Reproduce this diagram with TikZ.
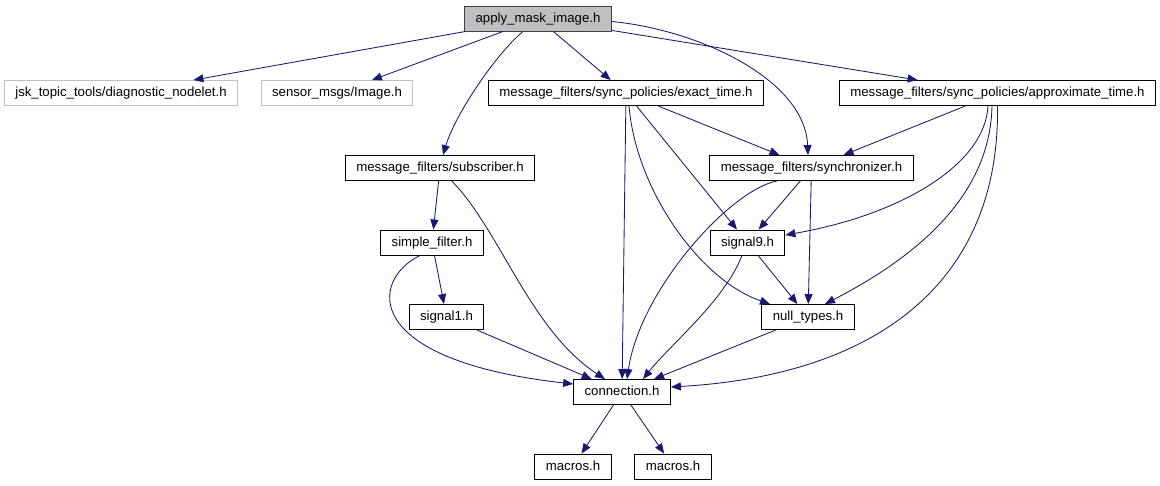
\documentclass[tikz,border=0pt]{standalone}
\usepackage{fontspec}
\setmainfont{Liberation Sans}
\usepackage{tikz}
\usetikzlibrary{arrows.meta}
\definecolor{edgeblue}{RGB}{25,25,112}
\definecolor{boxgray}{RGB}{191,191,191}

\begin{document}
\begin{tikzpicture}[x=1pt, y=-1pt,
			every node/.style = {shape=rectangle, draw, inner xsep=11pt, inner ysep=0pt,
				minimum height=25pt, text height=9.5pt, text depth=2.5pt, line width=0.9pt,
				font=\fontsize{13.2}{15}\selectfont},
			main/.style = {fill=boxgray, draw=black!75},
			ext/.style = {draw=boxgray},
			dep/.style = {draw=edgeblue, line width=0.85pt, -{Triangle[length=10pt,width=8pt]}}]
			\path[use as bounding box, fill=white] (0,0) rectangle (1160,485);
			\node[main] (apply) at (538,18.5) {apply\_mask\_image.h};
			\node[ext] (jsk) at (121,93) {jsk\_topic\_tools/diagnostic\_nodelet.h};
			\node[ext] (img) at (337,93) {sensor\_msgs/Image.h};
			\node (exact) at (626,93) {message\_filters/sync\_policies/exact\_time.h};
			\node (approx) at (997.5,93) {message\_filters/sync\_policies/approximate\_time.h};
			\node (sub) at (440,168) {message\_filters/subscriber.h};
			\node (sync) at (811.5,168) {message\_filters/synchronizer.h};
			\node (simple) at (432,242.5) {simple\_filter.h};
			\node (sig9) at (747.5,242.5) {signal9.h};
			\node (sig1) at (446.5,317) {signal1.h};
			\node (null) at (808,317) {null\_types.h};
			\node (conn) at (622,392) {connection.h};
			\node (mac1) at (573,466.5) {macros.h};
			\node (mac2) at (673,466.5) {macros.h};
			% straight includes
			\foreach \a/\b in {apply/jsk, apply/img, apply/exact, apply/approx, exact/sync, exact/sig9, exact/conn,
				approx/sync, sub/simple, sync/sig9, sync/null, simple/sig1, sig9/null, sig1/conn, null/conn,
				conn/mac1, conn/mac2}
				\draw[dep] (\a) -- (\b);
			% curved includes
			\draw[dep] ([xshift=-15pt]apply.south) .. controls (495,55) and (455,115) .. ([xshift=3pt]sub.north);
			\draw[dep] ([yshift=-3pt]apply.east) .. controls (700,30) and (805,80) .. ([xshift=-3.5pt]sync.north);
			\draw[dep] ([xshift=3pt]exact.south) .. controls (636,190) and (700,280) .. ([xshift=-38pt]null.north);
			\draw[dep] ([xshift=-9.5pt]approx.south) .. controls (985,165) and (900,215) .. ([yshift=7.5pt]sig9.east);
			\draw[dep] ([xshift=-5.5pt]approx.south) .. controls (990,200) and (910,260) .. ([xshift=17pt]null.north);
			\draw[dep] (approx.south) .. controls (1000,280) and (880,375) .. ([yshift=5pt]conn.east);
			\draw[dep] ([xshift=-34.5pt]sync.south) .. controls (730,190) and (640,290) .. ([xshift=5pt]conn.north);
			\draw[dep] ([xshift=11.7pt]sub.south) .. controls (500,230) and (530,330) .. ([xshift=-17pt]conn.north);
			\draw[dep] ([xshift=-12pt]simple.south) .. controls (370,280) and (360,360) .. ([yshift=8pt]conn.west);
			\draw[dep] ([xshift=-5.5pt]sig9.south) .. controls (725,300) and (670,345) .. ([xshift=21pt]conn.north);
		\end{tikzpicture}
\end{document}
